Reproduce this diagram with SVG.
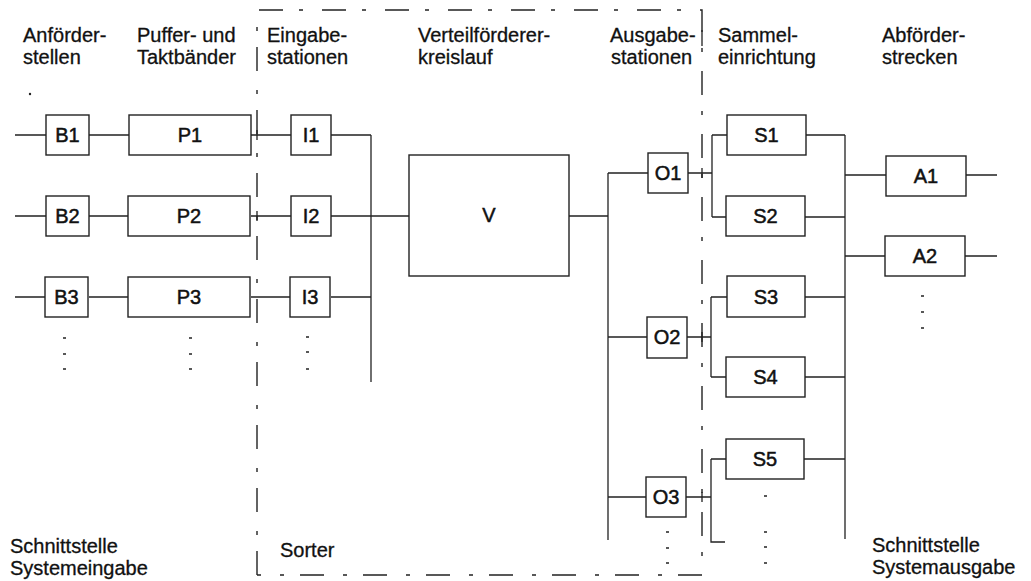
<svg xmlns="http://www.w3.org/2000/svg" width="1031" height="581" viewBox="0 0 1031 581">
<style>
.t{font-family:"Liberation Sans",Arial,sans-serif;font-size:20px;fill:#111;stroke:#111;stroke-width:0.3}
.lbl{font-family:"Liberation Sans",Arial,sans-serif;font-size:20px;fill:#111;stroke:#111;stroke-width:0.5;text-anchor:middle;dominant-baseline:central}
.box{fill:#fff;stroke:#222;stroke-width:1.4}
.ln{fill:none;stroke:#222;stroke-width:1.3}
.dd{fill:none;stroke:#222;stroke-width:1.4;stroke-dasharray:24 16 4 19}
.dot{stroke:#222;stroke-width:1.6}
</style>
<rect width="1031" height="581" fill="#fff"/>
<g id="sorter-boundary">
<path class="dd" d="M257 575 V10 H702 V575 H257"/>
</g>
<g id="headers">
<text class="t" x="23" y="42">Anförder-</text><text class="t" x="23" y="64">stellen</text>
<text class="t" x="137" y="42">Puffer- und</text><text class="t" x="137" y="64">Taktbänder</text>
<text class="t" x="267" y="42">Eingabe-</text><text class="t" x="267" y="64">stationen</text>
<text class="t" x="418" y="42">Verteilförderer-</text><text class="t" x="418" y="64">kreislauf</text>
<text class="t" x="610" y="42">Ausgabe-</text><text class="t" x="611" y="64">stationen</text>
<text class="t" x="718" y="42">Sammel-</text><text class="t" x="718" y="64">einrichtung</text>
<text class="t" x="882" y="42">Abförder-</text><text class="t" x="882" y="64">strecken</text>
<circle cx="30" cy="94" r="1.2" fill="#222"/>
</g>
<g id="footers">
<text class="t" x="10" y="553">Schnittstelle</text><text class="t" x="10" y="575">Systemeingabe</text>
<text class="t" x="280" y="557">Sorter</text>
<text class="t" x="872" y="552">Schnittstelle</text><text class="t" x="872" y="574">Systemausgabe</text>
</g>
<g id="connectors">
<path class="ln" d="M15 135 H46 M89 135 H129 M251 135 H291 M331 135 H371"/>
<path class="ln" d="M15 216 H46 M89 216 H129 M251 216 H291 M331 216 H409"/>
<path class="ln" d="M15 297 H46 M89 297 H129 M251 297 H291 M331 297 H371"/>
<path class="ln" d="M371 135 V382"/>
<path class="ln" d="M569 216 H608 M608 173 V540 M608 173 H648 M608 337 H647 M608 497 H646"/>
<path class="ln" d="M688 173 H712 M712 135 V217 M712 135 H727 M712 217 H726"/>
<path class="ln" d="M687 337 H711 M711 297 V377 M711 297 H727 M711 377 H726"/>
<path class="ln" d="M686 497 H711 M711 459 V542 H725 M711 459 H726"/>
<path class="ln" d="M806 135 H845 M805 217 H845 M805 297 H845 M805 377 H845 M804 459 H845 M845 135 V539"/>
<path class="ln" d="M845 175 H886 M845 256 H885 M966 175 H997 M965 256 H997"/>
<path class="ln" d="M702 168 V178 M702 332 V342 M702 492 V502 M257 130 V140 M257 211 V221 M702 30 V46"/>
</g>
<g id="B1"><rect class="box" x="46" y="115" width="43" height="40"/><text class="lbl" x="67.5" y="135">B1</text></g>
<g id="B2"><rect class="box" x="46" y="196" width="43" height="40"/><text class="lbl" x="67.5" y="216">B2</text></g>
<g id="B3"><rect class="box" x="45" y="277" width="43" height="40"/><text class="lbl" x="66.5" y="297">B3</text></g>
<g id="P1"><rect class="box" x="129" y="115" width="122" height="40"/><text class="lbl" x="190" y="135">P1</text></g>
<g id="P2"><rect class="box" x="128" y="196" width="122" height="40"/><text class="lbl" x="189" y="216">P2</text></g>
<g id="P3"><rect class="box" x="128" y="277" width="122" height="40"/><text class="lbl" x="189" y="297">P3</text></g>
<g id="I1"><rect class="box" x="291" y="115" width="40" height="40"/><text class="lbl" x="311" y="135">I1</text></g>
<g id="I2"><rect class="box" x="291" y="196" width="40" height="40"/><text class="lbl" x="311" y="216">I2</text></g>
<g id="I3"><rect class="box" x="290" y="277" width="40" height="40"/><text class="lbl" x="310" y="297">I3</text></g>
<g id="V"><rect class="box" x="409" y="155" width="160" height="121"/><text class="lbl" x="489" y="215">V</text></g>
<g id="O1"><rect class="box" x="648" y="153" width="40" height="40"/><text class="lbl" x="668" y="173">O1</text></g>
<g id="O2"><rect class="box" x="647" y="317" width="40" height="41"/><text class="lbl" x="667" y="337">O2</text></g>
<g id="O3"><rect class="box" x="646" y="477" width="40" height="40"/><text class="lbl" x="666" y="497">O3</text></g>
<g id="S1"><rect class="box" x="727" y="115" width="79" height="40"/><text class="lbl" x="766.5" y="135">S1</text></g>
<g id="S2"><rect class="box" x="726" y="196" width="79" height="40"/><text class="lbl" x="765.5" y="216">S2</text></g>
<g id="S3"><rect class="box" x="727" y="276" width="78" height="41"/><text class="lbl" x="766" y="297">S3</text></g>
<g id="S4"><rect class="box" x="726" y="357" width="79" height="40"/><text class="lbl" x="765.5" y="377">S4</text></g>
<g id="S5"><rect class="box" x="726" y="439" width="78" height="40"/><text class="lbl" x="765" y="459">S5</text></g>
<g id="A1"><rect class="box" x="886" y="156" width="80" height="40"/><text class="lbl" x="926" y="176">A1</text></g>
<g id="A2"><rect class="box" x="885" y="236" width="80" height="40"/><text class="lbl" x="925" y="256">A2</text></g>
<g id="ellipses">
<path class="dot" d="M63 338 H66 M63 354 H66 M63 369 H66"/>
<path class="dot" d="M189 338 H192 M189 354 H192 M189 369 H192"/>
<path class="dot" d="M306 337 H309 M306 352 H309 M306 369 H309"/>
<path class="dot" d="M921 296 H924 M921 312 H924 M921 328 H924"/>
<path class="dot" d="M666 532 H669 M666 548 H669 M666 563 H669"/>
<path class="dot" d="M764 496 H767 M764 532 H767 M764 547 H767 M764 563 H767"/>
</g>
</svg>
